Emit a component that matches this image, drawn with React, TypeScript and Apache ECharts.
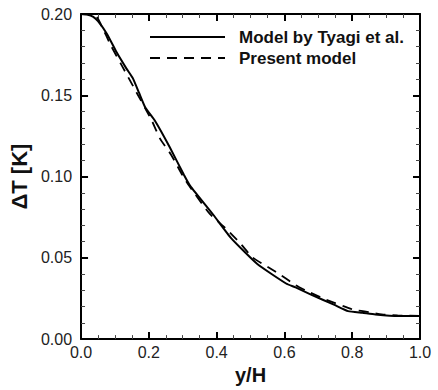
import React, { useEffect, useRef } from "react";
import * as echarts from "echarts";

const tyagiX = [0, 0.02, 0.035, 0.05, 0.077, 0.105, 0.134, 0.153, 0.171, 0.19, 0.218, 0.261, 0.303, 0.322, 0.39, 0.444, 0.52, 0.605, 0.633, 0.68, 0.746, 0.788, 0.83, 0.868, 0.934, 1.0];
const tyagiY = [0.2, 0.1996, 0.1984, 0.1956, 0.1876, 0.1764, 0.1664, 0.1604, 0.1516, 0.1423, 0.1343, 0.1183, 0.1013, 0.0943, 0.0765, 0.0618, 0.0462, 0.0342, 0.0318, 0.0272, 0.0212, 0.0172, 0.0162, 0.0152, 0.0142, 0.0142];

const presentX = [0, 0.04, 0.07, 0.088, 0.12, 0.162, 0.209, 0.233, 0.266, 0.3, 0.32, 0.38, 0.426, 0.468, 0.506, 0.55, 0.591, 0.633, 0.67, 0.72, 0.802, 0.849, 0.887, 0.934, 1.0];
const presentY = [0.2, 0.1996, 0.1885, 0.1806, 0.1684, 0.1524, 0.1343, 0.1233, 0.1133, 0.1005, 0.094, 0.077, 0.0683, 0.0593, 0.0503, 0.0445, 0.0392, 0.0332, 0.0292, 0.0245, 0.0182, 0.0166, 0.0152, 0.0146, 0.0142];

const seriesNames = ["Model by Tyagi et al.", "Present model"];
const xName = "y/H";
const yName = "ΔT [K]";

export default function App() {
  const ref = useRef<HTMLDivElement>(null);
  useEffect(() => {
    if (!ref.current) return;
    const chart = echarts.init(ref.current, null, { renderer: "svg" });
    const font = "Liberation Sans, Arial, sans-serif";
    const common = {
      type: "value" as const,
      axisLine: { show: true, onZero: false, lineStyle: { color: "#000", width: 2 } },
      axisTick: { show: true, inside: true, length: 7, lineStyle: { color: "#000", width: 2 } },
      minorTick: { show: true, length: 4, lineStyle: { color: "#444", width: 1 } },
      splitLine: { show: false },
    };
    const xBase = { ...common, min: 0, max: 1, interval: 0.2, minorTick: { ...common.minorTick, splitNumber: 4 } };
    const yBase = { ...common, min: 0, max: 0.2, interval: 0.05, minorTick: { ...common.minorTick, splitNumber: 5 } };
    chart.setOption({
      animation: false,
      backgroundColor: "#fff",
      grid: { left: 66, right: 18, top: 14, bottom: 43, containLabel: false },
      xAxis: [
        {
          ...xBase,
          position: "bottom",
          name: xName,
          nameLocation: "middle",
          nameGap: 15,
          nameTextStyle: { fontFamily: font, fontWeight: "bold", fontSize: 20, color: "#111" },
          axisLabel: { margin: 5, fontFamily: font, fontSize: 16, color: "#222", formatter: (v: number) => v.toFixed(1) },
        },
        { ...xBase, position: "top", axisLabel: { show: false } },
      ],
      yAxis: [
        {
          ...yBase,
          position: "left",
          name: yName,
          nameLocation: "middle",
          nameRotate: 90,
          nameGap: 41,
          nameTextStyle: { fontFamily: font, fontWeight: "bold", fontSize: 22, color: "#111" },
          axisLabel: { margin: 9, fontFamily: font, fontSize: 16, color: "#222", formatter: (v: number) => v.toFixed(2) },
        },
        { ...yBase, position: "right", axisLabel: { show: false } },
      ],
      series: [
        {
          name: seriesNames[0],
          type: "line",
          xAxisIndex: 0,
          yAxisIndex: 0,
          data: tyagiX.map((x, i) => [x, tyagiY[i]]),
          showSymbol: false,
          symbol: "none",
          smooth: 0.15,
          lineStyle: { color: "#000", width: 2 },
        },
        {
          name: seriesNames[1],
          type: "line",
          xAxisIndex: 0,
          yAxisIndex: 0,
          data: presentX.map((x, i) => [x, presentY[i]]),
          showSymbol: false,
          symbol: "none",
          smooth: 0.2,
          lineStyle: { color: "#000", width: 1.8, type: [10, 7] },
        },
      ],
      graphic: [
        { type: "line", shape: { x1: 150, y1: 37, x2: 225, y2: 37 }, style: { stroke: "#000", lineWidth: 2 } },
        { type: "line", shape: { x1: 150, y1: 58, x2: 225, y2: 58 }, style: { stroke: "#000", lineWidth: 1.8, lineDash: [10, 7] } },
        { type: "text", x: 239, y: 37, style: { text: seriesNames[0], font: `bold 17px ${font}`, fill: "#111", verticalAlign: "middle" } },
        { type: "text", x: 239, y: 58, style: { text: seriesNames[1], font: `bold 17px ${font}`, fill: "#111", verticalAlign: "middle" } },
      ],
    });
    return () => chart.dispose();
  }, []);
  return <div ref={ref} style={{ position: "fixed", left: 0, top: 0, width: 438, height: 390 }} />;
}
